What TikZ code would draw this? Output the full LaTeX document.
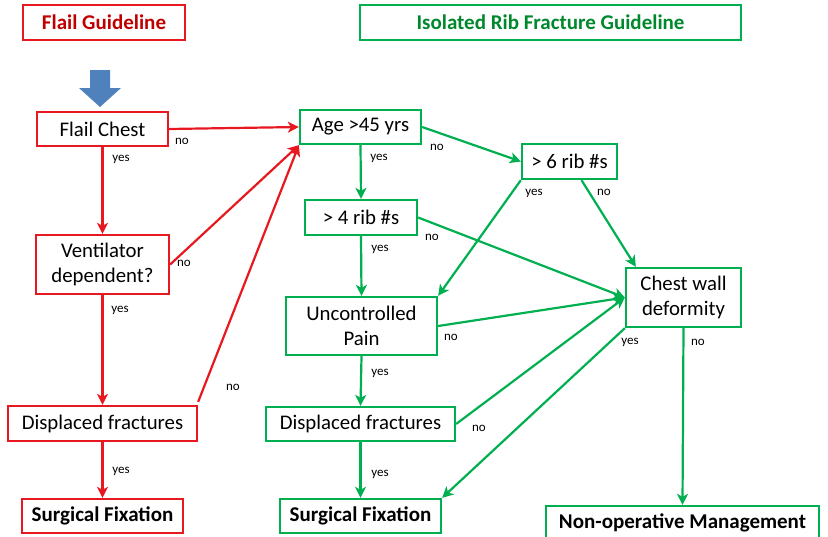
\documentclass[tikz,border=0pt]{standalone}
\usepackage{fontspec}
\setmainfont{Carlito}
\usetikzlibrary{calc, arrows.meta}

\definecolor{flailred}{RGB}{232,24,32}
\definecolor{flailtext}{RGB}{192,0,0}
\definecolor{ribgreen}{RGB}{0,176,80}
\definecolor{ribtext}{RGB}{0,136,44}
\definecolor{startblue}{RGB}{79,129,189}

\begin{document}
\begin{tikzpicture}[x=1pt, y=-1pt]
    \tikzstyle{flailbox} = [rectangle, draw=flailred, line width=2.3pt,
        inner sep=0pt, align=center, font=\fontsize{20.8}{25}\selectfont]
    \tikzstyle{ribbox} = [rectangle, draw=ribgreen, line width=2.3pt,
        inner sep=0pt, align=center, font=\fontsize{20.8}{25}\selectfont]
    \tikzstyle{flailarrow} = [draw=flailred, line width=2.2pt,
        -{Stealth[length=11pt, width=11pt, inset=3pt]}]
    \tikzstyle{ribarrow} = [draw=ribgreen, line width=2.2pt,
        -{Stealth[length=11pt, width=11pt, inset=3pt]}]
    \tikzstyle{answer} = [inner sep=0pt, font=\fontsize{13}{15}\selectfont]
    \tikzstyle{heading} = [font=\bfseries\fontsize{21}{25}\selectfont]

    \useasboundingbox (0,0) rectangle (828,536);

    % Titles -------------------------------------------
    \node (flail_title) at (104, 22.5) [flailbox, heading, text=flailtext,
        minimum width=162, minimum height=35] {Flail Guideline};
    \node (rib_title) at (550.5, 22.5) [ribbox, heading, text=ribtext,
        minimum width=381, minimum height=35] {Isolated Rib Fracture Guideline};

    % Start marker
    \fill[startblue] (90, 70) -- (110, 70) -- (110, 88) -- (121, 88)
        -- (100, 107) -- (79, 88) -- (90, 88) -- cycle;

    % Flail pathway ------------------------------------
    \node (flail) at (102.5, 129) [flailbox, minimum width=131,
        minimum height=34] {Flail Chest};
    \node (vent) at (102.5, 264.5) [flailbox, minimum width=133,
        minimum height=59] {Ventilator\\dependent?};
    \node (r_disp) at (102.5, 423.5) [flailbox, minimum width=189,
        minimum height=35] {Displaced fractures};
    \node (r_surg) at (102.5, 516) [flailbox, heading, minimum width=161,
        minimum height=34] {Surgical Fixation};

    % Rib fracture pathway -----------------------------
    \node (age) at (360.5, 127) [ribbox, minimum width=121,
        minimum height=34] {Age >45 yrs};
    \node (four) at (361, 217.5) [ribbox, minimum width=112,
        minimum height=35] {> 4 rib \#s};
    \node (pain) at (361.5, 326) [ribbox, minimum width=151,
        minimum height=58] {Uncontrolled\\Pain};
    \node (g_disp) at (360.5, 424) [ribbox, minimum width=189,
        minimum height=34] {Displaced fractures};
    \node (g_surg) at (360.5, 516) [ribbox, heading, minimum width=161,
        minimum height=34] {Surgical Fixation};
    \node (six) at (569.5, 161.5) [ribbox, minimum width=95,
        minimum height=35] {> 6 rib \#s};
    \node (wall) at (683.5, 297.5) [ribbox, minimum width=115,
        minimum height=59] {Chest wall\\deformity};
    \node (nonop) at (682.5, 523) [ribbox, heading, minimum width=273,
        minimum height=34] {Non-operative Management};
    % ---------------------------------------------------

    % Red connectors
    \draw [flailarrow] (flail.east) -- (age.west);
    \draw [flailarrow] (flail.south) -- (vent.north);
    \draw [flailarrow] (vent.east) -- (age.south west);
    \draw [flailarrow] (vent.south) -- (r_disp.north);
    \draw [flailarrow] ([yshift=3]r_disp.north east) -- (age.south west);
    \draw [flailarrow] (r_disp.south) -- (r_surg.north);

    % Green connectors
    \draw [ribarrow] (age.south) -- (four.north);
    \draw [ribarrow] (age.east) -- (six.west);
    \draw [ribarrow] (four.south) -- (pain.north);
    \draw [ribarrow] (four.east) -- (wall.west);
    \draw [ribarrow] (six.south west) -- (pain.north east);
    \draw [ribarrow] ([xshift=12]six.south) -- ([xshift=11]wall.north west);
    \draw [ribarrow] (pain.east) -- (wall.west);
    \draw [ribarrow] (pain.south) -- (g_disp.north);
    \draw [ribarrow] (g_disp.east) -- (wall.west);
    \draw [ribarrow] (g_disp.south) -- (g_surg.north);
    \draw [ribarrow] (wall.south west) -- (g_surg.north east);
    \draw [ribarrow] (wall.south) -- (nonop.north);

    % Answers -------------------------------------------
    \node (flail_no) at (182, 141) [answer] {no};
    \node (flail_yes) at (121, 159) [answer] {yes};
    \node (vent_no) at (184, 263) [answer] {no};
    \node (vent_yes) at (120, 310) [answer] {yes};
    \node (r_disp_no) at (233, 387) [answer] {no};
    \node (r_disp_yes) at (121, 471) [answer] {yes};
    \node (age_yes) at (379, 158) [answer] {yes};
    \node (age_no) at (437, 147) [answer] {no};
    \node (four_yes) at (380, 249) [answer] {yes};
    \node (four_no) at (432, 237) [answer] {no};
    \node (six_yes) at (534, 193) [answer] {yes};
    \node (six_no) at (604, 192) [answer] {no};
    \node (pain_yes) at (380, 373) [answer] {yes};
    \node (pain_no) at (451, 337) [answer] {no};
    \node (g_disp_yes) at (380, 474) [answer] {yes};
    \node (g_disp_no) at (479, 428) [answer] {no};
    \node (wall_yes) at (630, 342) [answer] {yes};
    \node (wall_no) at (698, 342) [answer] {no};
\end{tikzpicture}
\end{document}
